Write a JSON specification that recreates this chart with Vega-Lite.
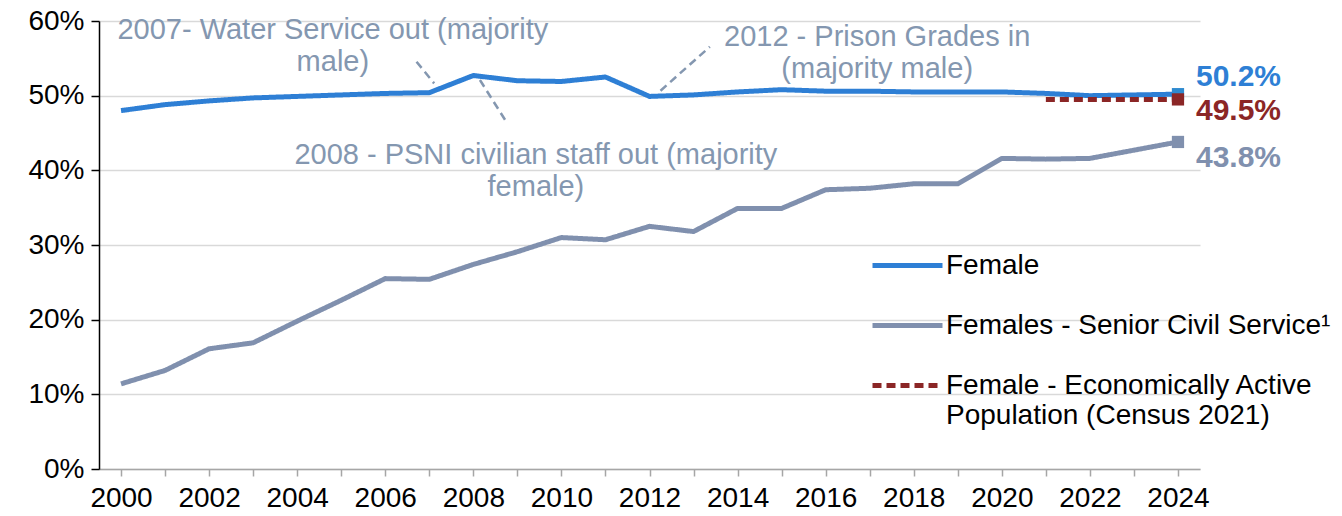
{
  "$schema": "https://vega.github.io/schema/vega-lite/v6.json",
  "autosize": "none",
  "width": 1101,
  "height": 448,
  "padding": {"left": 99, "top": 21, "right": 142, "bottom": 47},
  "background": "white",
  "config": {
    "font": "Liberation Sans",
    "view": {"stroke": null},
    "axis": {"labelFont": "Liberation Sans", "labelFontSize": 28, "labelColor": "#000000", "titleFont": "Liberation Sans"}
  },
  "datasets": {
    "series": [
      {"series": "Female", "year": 2000, "value": 48.0},
      {"series": "Female", "year": 2001, "value": 48.8},
      {"series": "Female", "year": 2002, "value": 49.3},
      {"series": "Female", "year": 2003, "value": 49.7},
      {"series": "Female", "year": 2004, "value": 49.9},
      {"series": "Female", "year": 2005, "value": 50.1},
      {"series": "Female", "year": 2006, "value": 50.3},
      {"series": "Female", "year": 2007, "value": 50.4},
      {"series": "Female", "year": 2008, "value": 52.7},
      {"series": "Female", "year": 2009, "value": 52.0},
      {"series": "Female", "year": 2010, "value": 51.9},
      {"series": "Female", "year": 2011, "value": 52.5},
      {"series": "Female", "year": 2012, "value": 49.9},
      {"series": "Female", "year": 2013, "value": 50.1},
      {"series": "Female", "year": 2014, "value": 50.5},
      {"series": "Female", "year": 2015, "value": 50.8},
      {"series": "Female", "year": 2016, "value": 50.6},
      {"series": "Female", "year": 2017, "value": 50.6},
      {"series": "Female", "year": 2018, "value": 50.5},
      {"series": "Female", "year": 2019, "value": 50.5},
      {"series": "Female", "year": 2020, "value": 50.5},
      {"series": "Female", "year": 2021, "value": 50.3},
      {"series": "Female", "year": 2022, "value": 50.0},
      {"series": "Female", "year": 2023, "value": 50.1},
      {"series": "Female", "year": 2024, "value": 50.2},
      {"series": "Females - Senior Civil Service¹", "year": 2000, "value": 11.4},
      {"series": "Females - Senior Civil Service¹", "year": 2001, "value": 13.2},
      {"series": "Females - Senior Civil Service¹", "year": 2002, "value": 16.1},
      {"series": "Females - Senior Civil Service¹", "year": 2003, "value": 16.9},
      {"series": "Females - Senior Civil Service¹", "year": 2004, "value": 19.8},
      {"series": "Females - Senior Civil Service¹", "year": 2005, "value": 22.6},
      {"series": "Females - Senior Civil Service¹", "year": 2006, "value": 25.5},
      {"series": "Females - Senior Civil Service¹", "year": 2007, "value": 25.4},
      {"series": "Females - Senior Civil Service¹", "year": 2008, "value": 27.4},
      {"series": "Females - Senior Civil Service¹", "year": 2009, "value": 29.1},
      {"series": "Females - Senior Civil Service¹", "year": 2010, "value": 31.0},
      {"series": "Females - Senior Civil Service¹", "year": 2011, "value": 30.7},
      {"series": "Females - Senior Civil Service¹", "year": 2012, "value": 32.5},
      {"series": "Females - Senior Civil Service¹", "year": 2013, "value": 31.8},
      {"series": "Females - Senior Civil Service¹", "year": 2014, "value": 34.9},
      {"series": "Females - Senior Civil Service¹", "year": 2015, "value": 34.9},
      {"series": "Females - Senior Civil Service¹", "year": 2016, "value": 37.4},
      {"series": "Females - Senior Civil Service¹", "year": 2017, "value": 37.6},
      {"series": "Females - Senior Civil Service¹", "year": 2018, "value": 38.2},
      {"series": "Females - Senior Civil Service¹", "year": 2019, "value": 38.2},
      {"series": "Females - Senior Civil Service¹", "year": 2020, "value": 41.6},
      {"series": "Females - Senior Civil Service¹", "year": 2021, "value": 41.5},
      {"series": "Females - Senior Civil Service¹", "year": 2022, "value": 41.6},
      {"series": "Females - Senior Civil Service¹", "year": 2023, "value": 42.7},
      {"series": "Females - Senior Civil Service¹", "year": 2024, "value": 43.8},
      {"series": "Female - Economically Active Population (Census 2021)", "year": 2021, "value": 49.5},
      {"series": "Female - Economically Active Population (Census 2021)", "year": 2024, "value": 49.5}
    ],
    "notes": [
      {"note": "2007- Water Service out (majority\nmale)", "year": 2004.81, "value": 58.79},
      {"note": "2012 - Prison Grades in\n(majority male)", "year": 2017.17, "value": 57.85},
      {"note": "2008 - PSNI civilian staff out (majority\nfemale)", "year": 2009.42, "value": 42.05}
    ],
    "leaders": [
      {"year": 2006.71, "value": 54.55, "year2": 2007.11, "value2": 51.65},
      {"year": 2008.15, "value": 52.1, "year2": 2008.77, "value2": 46.3},
      {"year": 2012.25, "value": 50.66, "year2": 2013.37, "value2": 56.55}
    ]
  },
  "layer": [
    {
      "data": {"name": "series"},
      "mark": {"type": "line", "strokeWidth": 5, "strokeJoin": "round"},
      "encoding": {
        "x": {
          "field": "year", "type": "quantitative",
          "scale": {"domain": [1999.5, 2024.5], "nice": false, "zero": false},
          "axis": {
            "title": null,
            "values": [2000,2001,2002,2003,2004,2005,2006,2007,2008,2009,2010,2011,2012,2013,2014,2015,2016,2017,2018,2019,2020,2021,2022,2023,2024],
            "labelExpr": "datum.value % 2 == 0 ? datum.value + '' : ''",
            "grid": false,
            "domainColor": "#A6A6A6",
            "domainWidth": 1.5,
            "tickColor": "#A6A6A6",
            "tickWidth": 1.5,
            "tickSize": 7,
            "labelPadding": 8,
            "labelFlush": false,
            "labelOverlap": false
          }
        },
        "y": {
          "field": "value", "type": "quantitative",
          "scale": {"domain": [0, 60], "nice": false},
          "axis": {
            "title": null,
            "values": [0, 10, 20, 30, 40, 50, 60],
            "labelExpr": "datum.value + '%'",
            "grid": true,
            "gridColor": "#D9D9D9",
            "gridWidth": 1.5,
            "domainColor": "#000000",
            "domainWidth": 1.5,
            "tickColor": "#000000",
            "tickWidth": 1.5,
            "tickSize": 8,
            "labelPadding": 7
          }
        },
        "color": {
          "field": "series", "type": "nominal",
          "scale": {
            "domain": ["Female", "Females - Senior Civil Service¹", "Female - Economically Active Population (Census 2021)"],
            "range": ["#2E7FD5", "#8090AE", "#8B2626"]
          },
          "legend": {
            "title": null,
            "orient": "none",
            "legendX": 771,
            "legendY": 207,
            "symbolType": "stroke",
            "symbolSize": 4900,
            "symbolStrokeWidth": 5,
            "labelFont": "Liberation Sans",
            "labelFontSize": 28,
            "labelColor": "#000000",
            "labelLimit": 0,
            "labelOffset": 1,
            "rowPadding": 8,
            "labelExpr": "datum.label == 'Female - Economically Active Population (Census 2021)' ? ['Female - Economically Active', 'Population (Census 2021)'] : datum.label"
          }
        },
        "strokeDash": {
          "field": "series", "type": "nominal",
          "scale": {
            "domain": ["Female", "Females - Senior Civil Service¹", "Female - Economically Active Population (Census 2021)"],
            "range": [[1, 0], [1, 0], [9, 5]]
          },
          "legend": null
        }
      }
    },
    {
      "data": {"name": "series"},
      "transform": [{"filter": "datum.year == 2024"}],
      "mark": {"type": "point", "shape": "square", "filled": true, "opacity": 1, "size": 150},
      "encoding": {
        "x": {"field": "year", "type": "quantitative"},
        "y": {"field": "value", "type": "quantitative"},
        "color": {
          "condition": [
            {"test": "datum.series == 'Female'", "value": "#2E8ACF"},
            {"test": "datum.series == 'Females - Senior Civil Service¹'", "value": "#8090AE"}
          ],
          "value": "#8B2626"
        }
      }
    },
    {
      "data": {"name": "series"},
      "transform": [{"filter": "datum.year == 2024 && datum.series == 'Female'"}, {"calculate": "format(datum.value, '.1f') + '%'", "as": "lab"}],
      "mark": {"type": "text", "align": "left", "baseline": "middle", "dx": 18, "dy": -17, "fontSize": 30, "fontWeight": "bold", "color": "#2E7FD5"},
      "encoding": {
        "x": {"field": "year", "type": "quantitative"},
        "y": {"field": "value", "type": "quantitative"},
        "text": {"field": "lab", "type": "nominal"}
      }
    },
    {
      "data": {"name": "series"},
      "transform": [{"filter": "datum.year == 2024 && datum.series == 'Female - Economically Active Population (Census 2021)'"}, {"calculate": "format(datum.value, '.1f') + '%'", "as": "lab"}],
      "mark": {"type": "text", "align": "left", "baseline": "middle", "dx": 18, "dy": 12, "fontSize": 30, "fontWeight": "bold", "color": "#8B2626"},
      "encoding": {
        "x": {"field": "year", "type": "quantitative"},
        "y": {"field": "value", "type": "quantitative"},
        "text": {"field": "lab", "type": "nominal"}
      }
    },
    {
      "data": {"name": "series"},
      "transform": [{"filter": "datum.year == 2024 && datum.series == 'Females - Senior Civil Service¹'"}, {"calculate": "format(datum.value, '.1f') + '%'", "as": "lab"}],
      "mark": {"type": "text", "align": "left", "baseline": "middle", "dx": 18, "dy": 16, "fontSize": 30, "fontWeight": "bold", "color": "#8090AE"},
      "encoding": {
        "x": {"field": "year", "type": "quantitative"},
        "y": {"field": "value", "type": "quantitative"},
        "text": {"field": "lab", "type": "nominal"}
      }
    },
    {
      "data": {"name": "leaders"},
      "mark": {"type": "rule", "color": "#8497B0", "strokeWidth": 2.5, "strokeDash": [8, 5]},
      "encoding": {
        "x": {"field": "year", "type": "quantitative"},
        "y": {"field": "value", "type": "quantitative"},
        "x2": {"field": "year2"},
        "y2": {"field": "value2"}
      }
    },
    {
      "data": {"name": "notes"},
      "mark": {"type": "text", "align": "center", "baseline": "middle", "fontSize": 29, "color": "#8497B0", "lineBreak": "\n", "lineHeight": 32},
      "encoding": {
        "x": {"field": "year", "type": "quantitative"},
        "y": {"field": "value", "type": "quantitative"},
        "text": {"field": "note", "type": "nominal"}
      }
    }
  ]
}
